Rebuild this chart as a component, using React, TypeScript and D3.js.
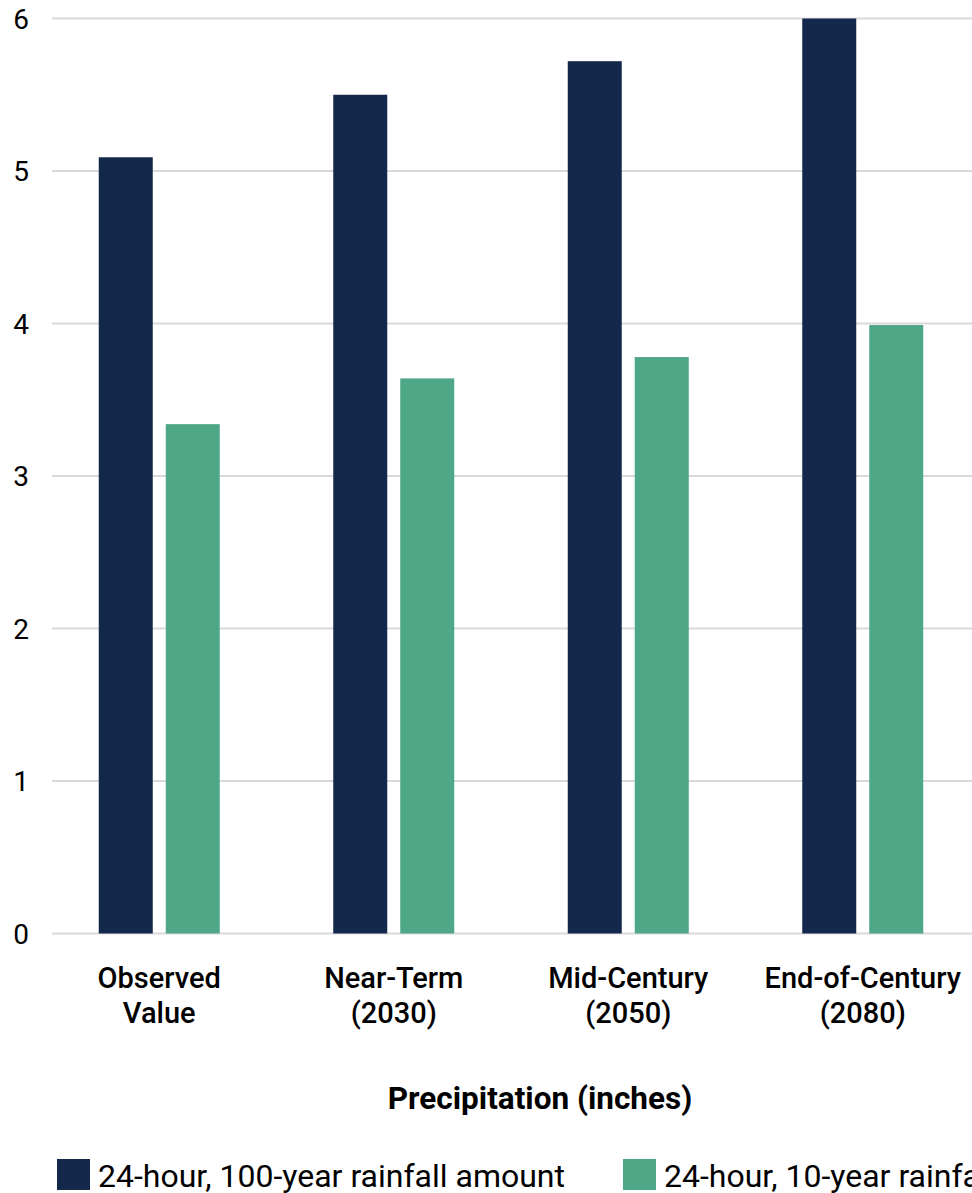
import React from "react";
import * as d3 from "d3";

const categories: string[][] = [
  ["Observed", "Value"],
  ["Near-Term", "(2030)"],
  ["Mid-Century", "(2050)"],
  ["End-of-Century", "(2080)"],
];
const seriesNames = ["24-hour, 100-year rainfall amount", "24-hour, 10-year rainfall amount"];
const hundredYear = [5.09, 5.5, 5.72, 6.0];
const tenYear = [3.34, 3.64, 3.78, 3.99];
const yTicks = [0, 1, 2, 3, 4, 5, 6];
const colors = ["#14284b", "#4ea786"];
const axisTitle = "Precipitation (inches)";

export default function App() {
  const W = 972, H = 1193;
  const keys = categories.map((c) => c.join(" "));
  const x0 = d3.scaleBand<string>().domain(keys).range([42, 980]).padding(0);
  const x1 = d3.scaleBand<string>().domain(seriesNames).range([0, 121]).paddingInner(0.194).paddingOuter(0);
  const y = d3.scaleLinear().domain([0, 6]).range([933.5, 18.5]);
  const data = [hundredYear, tenYear];
  const font = "Roboto, 'Noto Sans', sans-serif";
  return (
    <svg width={W} height={H} style={{ position: "absolute", left: 0, top: 0 }} fontFamily={font}>
      <rect width={W} height={H} fill="#fff" />
      {yTicks.map((t) => (
        <g key={t}>
          <line x1={52} x2={W} y1={y(t)} y2={y(t)} stroke="#d9d9d9" strokeWidth={2} />
          <text x={29} y={y(t)} dy="0.36em" textAnchor="end" fontSize={28} fill="#000">
            {t}
          </text>
        </g>
      ))}
      {keys.map((k, i) => {
        const gx = (x0(k) as number) + x0.bandwidth() / 2 - 60.5;
        return (
          <g key={k}>
            {seriesNames.map((s, j) => (
              <rect
                key={s}
                x={gx + (x1(s) as number)}
                y={y(data[j][i])}
                width={x1.bandwidth()}
                height={y(0) - y(data[j][i])}
                fill={colors[j]}
              />
            ))}
            {categories[i].map((line, li) => (
              <text
                key={li}
                x={gx + 60.5}
                y={988 + li * 35}
                textAnchor="middle"
                fontSize={29}
                fontWeight={500}
                fill="#000"
              >
                {line}
              </text>
            ))}
          </g>
        );
      })}
      <text x={540} y={1109} textAnchor="middle" fontSize={31.5} fontWeight={700} fill="#000">
        {axisTitle}
      </text>
      {seriesNames.map((s, j) => {
        const lx = 57 + j * 566;
        return (
          <g key={s}>
            <rect x={lx} y={1159} width={33} height={31} fill={colors[j]} />
            <text x={lx + 41} y={1187} fontSize={32} fill="#000">
              {s}
            </text>
          </g>
        );
      })}
    </svg>
  );
}
